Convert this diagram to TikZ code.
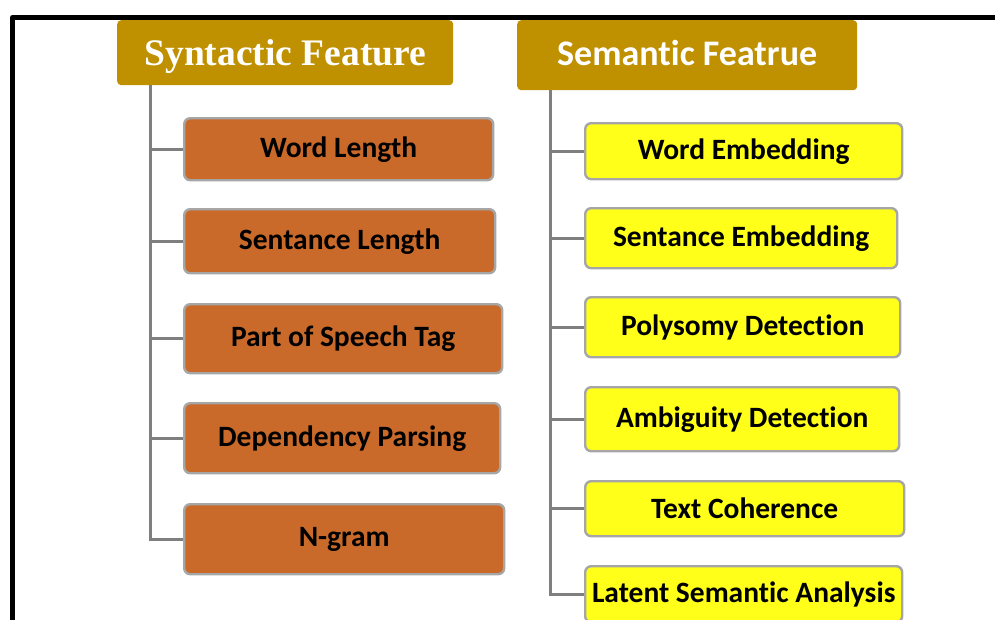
\documentclass[tikz,border=0pt]{standalone}
\usepackage{fontspec}
\usetikzlibrary{calc}
\setmainfont{Liberation Serif}
\newfontfamily\carlito[RawFeature={-liga;-clig;-dlig;-calt}]{Carlito}
\definecolor{hdrgold}{RGB}{191,144,0}
\definecolor{synorange}{RGB}{201,106,42}
\definecolor{semyellow}{RGB}{255,255,26}
\definecolor{boxgray}{RGB}{166,166,166}
\definecolor{conngray}{RGB}{127,127,127}
\tikzset{
  hdr/.style={fill=hdrgold, rounded corners=4pt, anchor=north west, text=white, inner sep=0pt},
  leaf/.style={draw=boxgray, line width=2.4pt, rounded corners=6pt, anchor=north west,
    inner sep=0pt, font=\carlito\bfseries\fontsize{29.5}{33}\selectfont},
  synbox/.style={leaf, fill=synorange},
  sembox/.style={leaf, fill=semyellow},
  conn/.style={draw=conngray, line width=3pt},
  frame/.style={line width=5pt, line join=round}
}
\begin{document}
\begin{tikzpicture}[x=1pt, y=-1pt]
\useasboundingbox (0,0) rectangle (995,619);
\clip (0,0) rectangle (995,619);

% outer frame (top and left edges)
\draw[frame] (12.5,625) -- (12.5,17.5) -- (1000,17.5);

% headers
\node[hdr, minimum width=336pt, minimum height=65pt, text height=30pt, text depth=4pt,
      font=\bfseries\fontsize{37.5}{40}\selectfont] (synhead) at (117,20) {Syntactic Feature};
\node[hdr, minimum width=340pt, minimum height=70pt, text height=28pt, text depth=8pt,
      font=\carlito\bfseries\fontsize{36}{40}\selectfont] (semhead) at (517,20) {Semantic Featrue};

% syntactic features
\node[synbox, minimum width=309pt, minimum height=62pt] (wl)  at (183,117) {Word Length};
\node[synbox, minimum width=311pt, minimum height=64pt] (sl)  at (183,208) {Sentance Length};
\node[synbox, minimum width=318pt, minimum height=69pt] (pos) at (183,303) {Part of Speech Tag};
\node[synbox, minimum width=316pt, minimum height=70pt] (dep) at (183,402) {Dependency Parsing};
\node[synbox, minimum width=320pt, minimum height=70pt] (ng)  at (183,503) {N-gram};

% semantic features
\node[sembox, minimum width=317pt, minimum height=56pt] (we)  at (584,122) {Word Embedding};
\node[sembox, minimum width=312pt, minimum height=60pt] (se)  at (584,207) {Sentance Embedding};
\node[sembox, minimum width=315pt, minimum height=60pt] (pd)  at (584,296) {Polysomy Detection};
\node[sembox, minimum width=314pt, minimum height=64pt] (ad)  at (584,386) {Ambiguity Detection};
\node[sembox, minimum width=319pt, minimum height=55pt] (tc)  at (584,480) {Text Coherence};
\node[sembox, minimum width=317pt, minimum height=56pt] (lsa) at (584,565) {Latent Semantic Analysis};

% tree connectors: one trunk per header, then a branch to each box
\coordinate (syntrunk) at ($(synhead.south west)+(33,0)$);
\coordinate (semtrunk) at ($(semhead.south west)+(33,0)$);
\draw[conn] (syntrunk) |- (ng.west);
\foreach \n in {wl,sl,pos,dep} \draw[conn] (syntrunk |- \n.west) -- (\n.west);
\draw[conn] (semtrunk) |- (lsa.west);
\foreach \n in {we,se,pd,ad,tc} \draw[conn] (semtrunk |- \n.west) -- (\n.west);
\end{tikzpicture}
\end{document}
